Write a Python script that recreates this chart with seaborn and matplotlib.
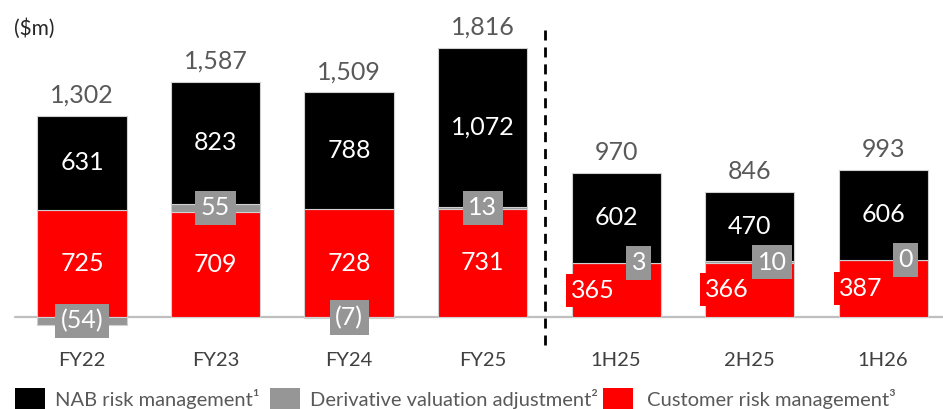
import matplotlib
matplotlib.use("Agg")
import matplotlib.pyplot as plt
from matplotlib.patches import Rectangle
import numpy as np
import pandas as pd
import seaborn as sns

# Trading income components ($m)
periods = ["FY22", "FY23", "FY24", "FY25", "1H25", "2H25", "1H26"]
customer = [725, 709, 728, 731, 365, 366, 387]
derivative = [-54, 55, -7, 13, 3, 10, 0]
nab = [631, 823, 788, 1072, 602, 470, 606]
totals = [1302, 1587, 1509, 1816, 970, 846, 993]
legend_labels = ["NAB risk management\u00b9",
                 "Derivative valuation adjustment\u00b2",
                 "Customer risk management\u00b3"]

RED = "#FF0000"
GREY = "#969696"
BLACK = "#000000"
TXT = "#595959"

sns.set_theme(style="white")
plt.rcParams["font.family"] = ["Lato", "DejaVu Sans"]

df = pd.DataFrame({"period": periods, "customer": customer,
                   "derivative": derivative, "nab": nab})
cust = np.array(customer, float)
deriv = np.array(derivative, float)
nabv = np.array(nab, float)
deriv_base = np.where(deriv >= 0, cust, 0.0)
nab_base = cust + np.clip(deriv, 0, None)
bar_top = nab_base + nabv

W, H = 943, 409
fig = plt.figure(figsize=(W / 100, H / 100), dpi=100)
ax = fig.add_axes([0, 69 / H, 1, 340 / H])

bar_kw = dict(width=0.667, saturation=1, errorbar=None, ax=ax,
              edgecolor="#d0d0d0", linewidth=0.8)
sns.barplot(data=df, x="period", y="customer", color=RED, **bar_kw)
sns.barplot(data=df, x="period", y="derivative", color=GREY,
            bottom=deriv_base, **bar_kw)
sns.barplot(data=df, x="period", y="nab", color=BLACK,
            bottom=nab_base, **bar_kw)

ax.set_xlim(-0.614, 6.449)
ax.set_ylim(-155, 2140)
ax.set_xlabel("")
ax.set_ylabel("")
ax.set_yticks([])
for s in ax.spines.values():
    s.set_visible(False)
ax.tick_params(axis="x", length=0, pad=9, labelsize=14.5, labelcolor="#404040")

# zero baseline
ax.axhline(0, xmin=15 / W, color="#BFBFBF", lw=1.6, zorder=0.5)

# divider between full-year and half-year periods
ax.plot([3.47, 3.47], [1938, -215], color="black", lw=2,
        ls=(0, (3.6, 2.5)), clip_on=False, zorder=3)

fs = 18
for i in range(len(periods)):
    half = i >= 4
    # totals above bars
    ax.annotate(f"{totals[i]:,}", (i, bar_top[i]), xytext=(0, 9.5),
                textcoords="offset points", ha="center", va="baseline",
                fontsize=fs, color=TXT)
    # NAB risk management
    ax.text(i, nab_base[i] + nabv[i] / 2, f"{nab[i]:,}", ha="center",
            va="center", fontsize=fs, color="white", zorder=5)
    # customer risk management
    if half:
        ax.text(i - 0.17, cust[i] / 2, f"{customer[i]:,}", ha="center",
                va="center", fontsize=fs, color="white", zorder=5,
                bbox=dict(boxstyle="square,pad=0.2", fc=RED, ec="none"))
    else:
        ax.text(i, cust[i] / 2, f"{customer[i]:,}", ha="center",
                va="center", fontsize=fs, color="white", zorder=5)
    # derivative valuation adjustment
    d = derivative[i]
    dtxt = f"({abs(d)})" if d < 0 else f"{d}"
    dx = i + 0.17 if half else i
    ax.text(dx, deriv_base[i] + deriv[i] / 2, dtxt, ha="center",
            va="center", fontsize=fs, color="white", zorder=6,
            bbox=dict(boxstyle="square,pad=0.22", fc=GREY, ec="none"))

fig.text(14 / W, 1 - 29 / H, "($m)", ha="left", va="center",
         fontsize=15, color="#262626")

# legend
leg_items = [(15, 55, BLACK, legend_labels[0]),
             (270, 310, GREY, legend_labels[1]),
             (603, 647, RED, legend_labels[2])]
for sx, tx, col, lab in leg_items:
    fig.add_artist(Rectangle((sx / W, -0.02), 30 / W, (H - 388) / H + 0.02,
                             transform=fig.transFigure, facecolor=col,
                             edgecolor="none"))
    fig.text(tx / W, 1 - 406 / H, lab, ha="left", va="baseline",
             fontsize=14.5, color=TXT)

fig.savefig("out.png", dpi=100)
